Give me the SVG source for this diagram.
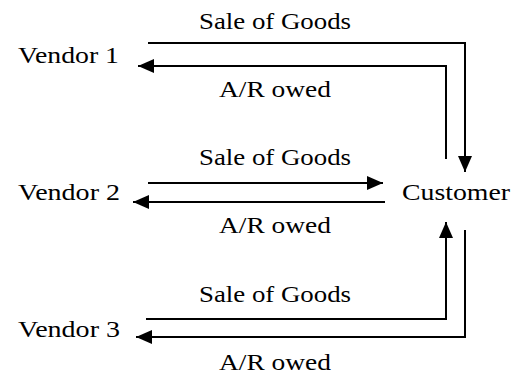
<svg xmlns="http://www.w3.org/2000/svg" width="521" height="376" viewBox="0 0 521 376">
<style>
text{font-family:'Liberation Serif','Times New Roman',serif;font-size:24px;fill:#000}
.c{fill:none;stroke:#000;stroke-width:2}
</style>
<defs>
<marker id="ah" markerUnits="userSpaceOnUse" markerWidth="16" markerHeight="14" refX="16" refY="7" orient="auto">
<path d="M0,0 L16,7 L0,14 z" fill="#000"/>
</marker>
</defs>
<rect width="521" height="376" fill="#fff"/>
<g id="connectors">
<path class="c" d="M148,43 H465 V172" marker-end="url(#ah)"/>
<path class="c" d="M446,159 V66 H138" marker-end="url(#ah)"/>
<path class="c" d="M148,183 H383" marker-end="url(#ah)"/>
<path class="c" d="M385,202 H133" marker-end="url(#ah)"/>
<path class="c" d="M146,319 H446 V222" marker-end="url(#ah)"/>
<path class="c" d="M465,230 V337 H136" marker-end="url(#ah)"/>
<text x="199" y="29" textLength="152" lengthAdjust="spacingAndGlyphs">Sale of Goods</text>
<text x="219" y="97" textLength="112" lengthAdjust="spacingAndGlyphs">A/R owed</text>
<text x="199" y="165" textLength="152" lengthAdjust="spacingAndGlyphs">Sale of Goods</text>
<text x="219" y="233" textLength="112" lengthAdjust="spacingAndGlyphs">A/R owed</text>
<text x="199" y="302" textLength="152" lengthAdjust="spacingAndGlyphs">Sale of Goods</text>
<text x="219" y="370" textLength="112" lengthAdjust="spacingAndGlyphs">A/R owed</text>
</g>
<g id="vendor1"><text x="18" y="63" textLength="101" lengthAdjust="spacingAndGlyphs">Vendor 1</text></g>
<g id="vendor2"><text x="18" y="200" textLength="102" lengthAdjust="spacingAndGlyphs">Vendor 2</text></g>
<g id="vendor3"><text x="18" y="337" textLength="102" lengthAdjust="spacingAndGlyphs">Vendor 3</text></g>
<g id="customer"><text x="402" y="200" textLength="108" lengthAdjust="spacingAndGlyphs">Customer</text></g>
</svg>
